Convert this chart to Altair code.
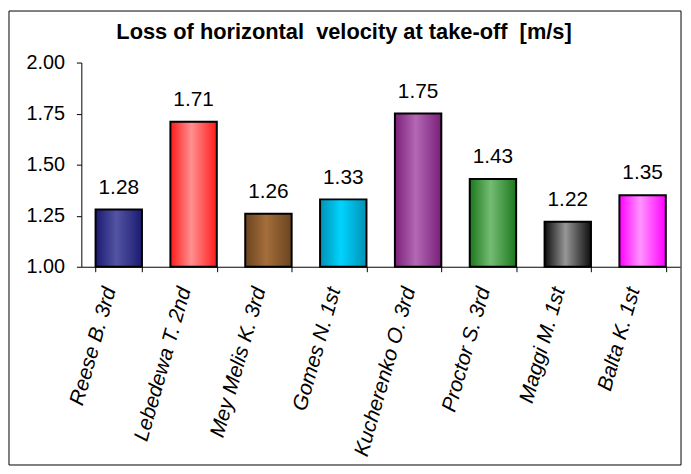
import altair as alt
import pandas as pd

athletes = ["Reese B. 3rd", "Lebedewa T. 2nd", "Mey Melis K. 3rd", "Gomes N. 1st",
            "Kucherenko O. 3rd", "Proctor S. 3rd", "Maggi M. 1st", "Balta K. 1st"]
loss = [1.28, 1.71, 1.26, 1.33, 1.75, 1.43, 1.22, 1.35]
dark = ["#1a1a72", "#ff1a1a", "#6a4420", "#0090b4", "#7a1f7a", "#1c781c", "#0e0e0e", "#ff00ff"]
light = ["#5454a4", "#ff9090", "#a46e3a", "#00d4ff", "#b468b4", "#74bc74", "#969696", "#ff94ff"]
y_ticks = [1.0, 1.25, 1.5, 1.75, 2.0]
title_text = "Loss of horizontal\u00a0 velocity at take-off\u00a0 [m/s]"

FONT = "Liberation Sans"
df = pd.DataFrame({"athlete": athletes, "loss": loss})

x_enc = alt.X(
    "athlete:N", sort=athletes,
    scale=alt.Scale(paddingInner=0.38, paddingOuter=0.19),
    axis=alt.Axis(title=None, labelAngle=-74, labelAlign="right", labelBaseline="middle",
                  labelFontStyle="italic", labelFontSize=21, labelFont=FONT, labelColor="black",
                  labelPadding=16, labelOffset=-9, tickBand="extent", tickSize=5,
                  tickColor="black", domainColor="black"),
)
y_enc = alt.Y(
    "loss:Q",
    scale=alt.Scale(domain=[1, 2], zero=False, nice=False),
    axis=alt.Axis(title=None, values=y_ticks, format=".2f", grid=False, labelFontSize=20,
                  labelFont=FONT, labelColor="black", labelPadding=12, tickSize=5,
                  tickColor="black", domainColor="black"),
)

frame = alt.Chart(pd.DataFrame({"f": [0]})).mark_rect(
    fill="transparent", stroke="black", strokeWidth=1
).encode(x=alt.value(-73), x2=alt.value(605), y=alt.value(-52), y2=alt.value(406))

layers = [frame]
for name, d, l in zip(athletes, dark, light):
    grad = {
        "gradient": "linear", "x1": 0, "y1": 0, "x2": 1, "y2": 0,
        "stops": [
            {"offset": 0, "color": d},
            {"offset": 0.45, "color": l},
            {"offset": 1, "color": d},
        ],
    }
    layers.append(
        alt.Chart(df).transform_filter(alt.datum.athlete == name)
        .mark_bar(fill=grad, stroke="black", strokeWidth=2)
        .encode(x=x_enc, y=y_enc, y2=alt.datum(1.0))
    )

text = alt.Chart(df).mark_text(
    dy=-16, baseline="alphabetic", fontSize=21, font=FONT, color="black"
).encode(x=x_enc, y=y_enc, text=alt.Text("loss:Q", format=".2f"))
layers.append(text)

chart = alt.layer(*layers).properties(
    width=604, height=206,
    title=alt.TitleParams(title_text, fontSize=22,
                          fontWeight="bold", font=FONT, color="black", anchor="middle",
                          frame="group", dx=-37, dy=72, offset=21, baseline="alphabetic"),
    autosize=alt.AutoSizeParams(type="none"),
    padding={"left": 74, "top": 53, "right": 3, "bottom": 202},
).configure_view(stroke=None)

chart.save("out.html", embed_options={"renderer": "svg", "actions": False})
